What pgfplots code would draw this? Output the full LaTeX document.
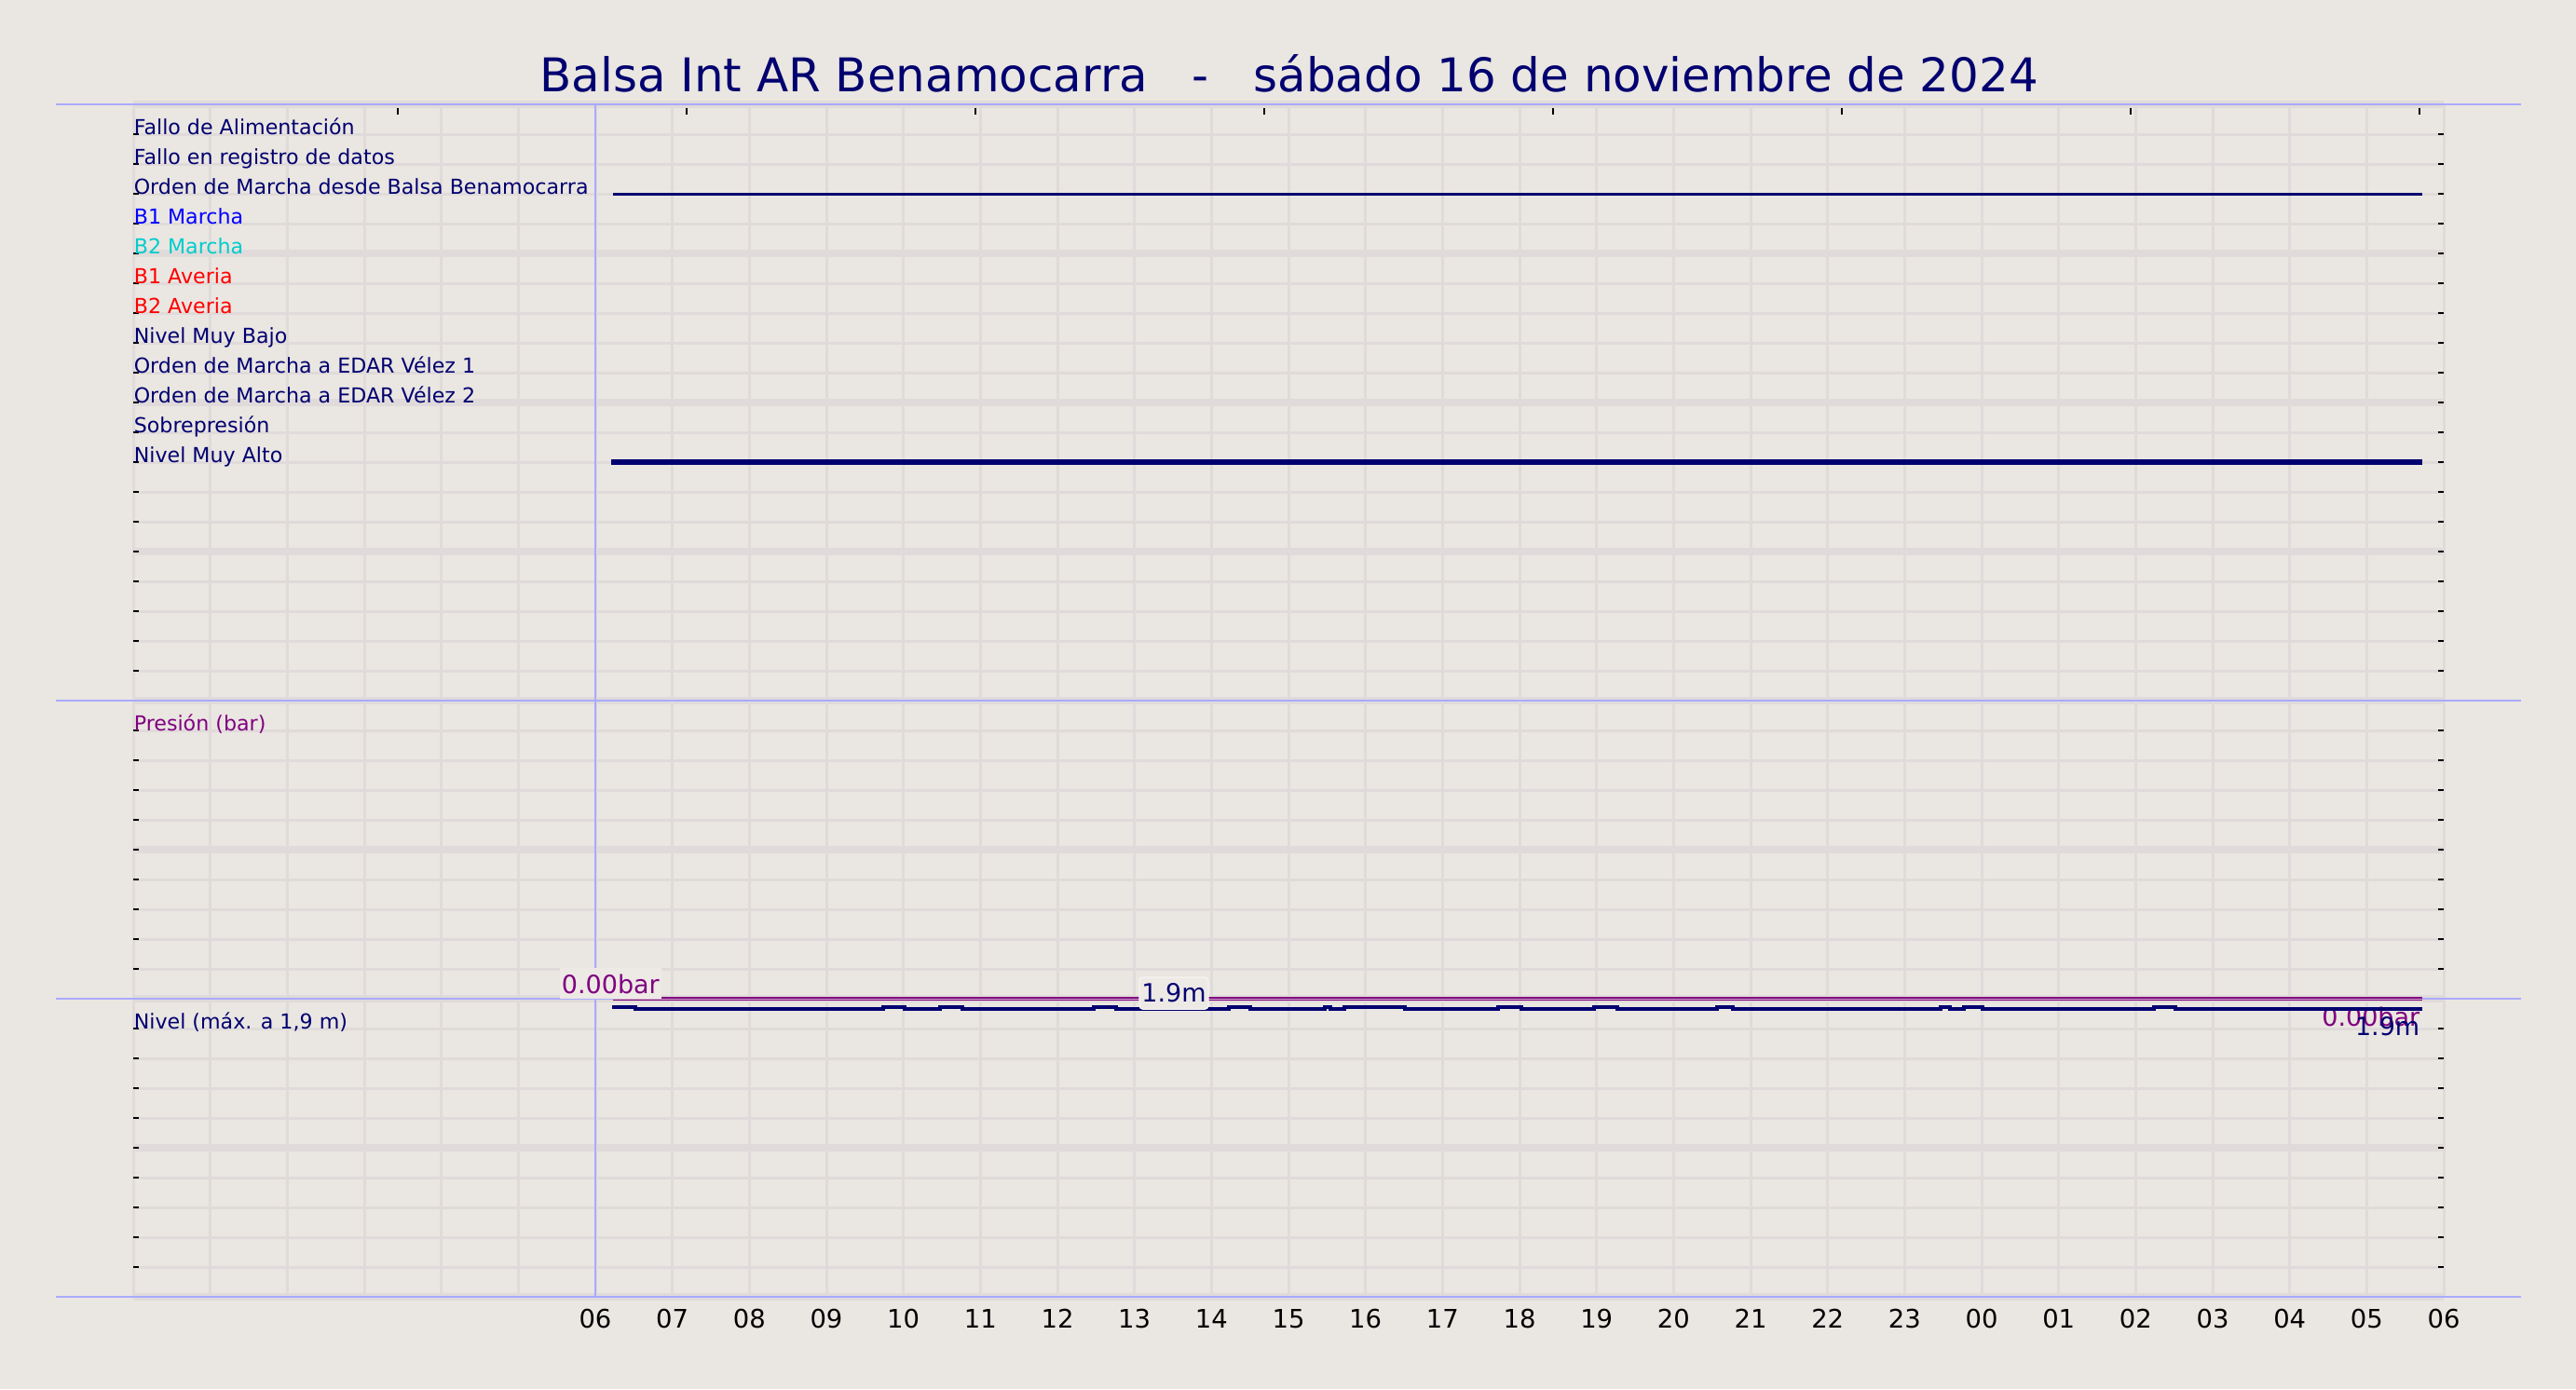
\documentclass[border=0pt]{standalone}
\usepackage{pgfplots}
\pgfplotsset{compat=1.18}
\usepackage{fontspec}
\setmainfont{DejaVu Sans}
\definecolor{bgc}{HTML}{EAE6E1}
\definecolor{gridc}{HTML}{E0DBDA}
\definecolor{sepc}{HTML}{AAAAFF}
\definecolor{navyc}{HTML}{000070}
\definecolor{purp}{HTML}{800080}
\definecolor{cyanc}{HTML}{00CCCC}
\definecolor{boxc}{HTML}{EDE9E5}
\newcommand\lab{\fontsize{5.54pt}{6.6pt}\selectfont}
\newcommand\ann{\fontsize{6.75pt}{8pt}\selectfont}
\begin{document}
\begin{tikzpicture}
\fill[bgc] (0,0) rectangle (691.25pt,372.75pt);
\node[anchor=base, text=navyc, font=\fontsize{12.48pt}{15pt}\selectfont, inner sep=0pt] at (345.9pt,348pt) {Balsa Int AR Benamocarra\ \ \ -\ \ \ sábado 16 de noviembre de 2024};
% main axis: grid, labels, digital signals (y = 40 - row)
\begin{axis}[
  at={(35.75pt,24.75pt)}, anchor=south west,
  scale only axis, width=620pt, height=320pt,
  xmin=0, xmax=30, ymin=0, ymax=40,
  axis line style={draw=none},
  clip=false,
  major tick length=0pt,
  xtick={6,...,30},
  xticklabels={06,07,08,09,10,11,12,13,14,15,16,17,18,19,20,21,22,23,00,01,02,03,04,05,06},
  xticklabel style={font=\fontsize{6.85pt}{8pt}\selectfont, anchor=base, yshift=-8.25pt, text=black},
  ytick=\empty,
]
\pgfplotsinvokeforeach{0,...,30}{\draw[gridc, line width=0.75pt] (axis cs:#1,0) -- (axis cs:#1,40);}
\pgfplotsinvokeforeach{0,...,40}{\draw[gridc, line width=0.75pt] (axis cs:0,#1) -- (axis cs:30,#1);}
\pgfplotsinvokeforeach{0,5,...,40}{\draw[gridc, line width=2pt] (axis cs:0,#1) -- (axis cs:30,#1);}
\pgfplotsinvokeforeach{1,...,39}{
  \draw[black, line width=0.45pt] (axis cs:0,#1) -- ++(1.5pt,0);
  \draw[black, line width=0.45pt] (axis cs:30,#1) -- ++(-1.5pt,0);}
\pgfplotsinvokeforeach{3.435,7.185,10.935,14.685,18.435,22.185,25.935,29.685}{
  \draw[black, line width=0.35pt] (axis cs:#1,40) ++(0,-1pt) -- ++(0,-1.75pt);}
\pgfplotsinvokeforeach{0,10,20,40}{
  \draw[sepc, line width=0.5pt] ([xshift=-20.75pt]axis cs:0,#1) -- ([xshift=20.75pt]axis cs:30,#1);}
\draw[sepc, line width=0.5pt] (axis cs:6,0) -- (axis cs:6,40);
\begin{scope}[every node/.style={anchor=base west, inner sep=0pt, font=\lab, yshift=-0.15pt}]
\node[text=navyc] at (axis cs:0,39) {Fallo de Alimentación};
\node[text=navyc] at (axis cs:0,38) {Fallo en registro de datos};
\node[text=navyc] at (axis cs:0,37) {Orden de Marcha desde Balsa Benamocarra};
\node[text=blue] at (axis cs:0,36) {B1 Marcha};
\node[text=cyanc] at (axis cs:0,35) {B2 Marcha};
\node[text=red] at (axis cs:0,34) {B1 Averia};
\node[text=red] at (axis cs:0,33) {B2 Averia};
\node[text=navyc] at (axis cs:0,32) {Nivel Muy Bajo};
\node[text=navyc] at (axis cs:0,31) {Orden de Marcha a EDAR Vélez 1};
\node[text=navyc] at (axis cs:0,30) {Orden de Marcha a EDAR Vélez 2};
\node[text=navyc] at (axis cs:0,29) {Sobrepresión};
\node[text=navyc] at (axis cs:0,28) {Nivel Muy Alto};
\node[text=purp] at (axis cs:0,19) {Presión (bar)};
\node[text=navyc] at (axis cs:0,9) {Nivel (máx. a 1,9 m)};
\end{scope}
% Orden de Marcha desde Balsa Benamocarra (row 3)
\addplot[navyc, line width=0.75pt] coordinates {(6.234,37) (29.722,37)};
% Nivel Muy Alto (row 12)
\addplot[navyc, line width=1.4pt] coordinates {(6.206,28) (29.722,28)};
\end{axis}
% Presion panel
\begin{axis}[
  at={(35.75pt,104.75pt)}, anchor=south west,
  scale only axis, width=620pt, height=80pt,
  xmin=0, xmax=30, ymin=0, ymax=10,
  hide axis, clip=false,
]
\addplot[purp, line width=0.8pt] coordinates {(6.234,0) (29.722,0)};
\addplot[purp!25!bgc, line width=0.25pt] coordinates {(6.234,0) (29.722,0)};
\node[anchor=base east, fill=boxc, text=purp, font=\ann, inner xsep=0.6pt, inner ysep=1.5pt] at (axis cs:6.871,0) [yshift=1.5pt] {0.00bar};
\node[anchor=base east, text=purp, font=\ann, inner sep=0pt] at (axis cs:29.698,0) [yshift=-7.25pt] {0.00bar};
\end{axis}
% Nivel panel
\begin{axis}[
  at={(35.75pt,24.75pt)}, anchor=south west,
  scale only axis, width=620pt, height=80pt,
  xmin=0, xmax=30, ymin=0, ymax=1.965,
  hide axis, clip=false,
]
\addplot[navyc, line width=1pt, const plot] coordinates {
(6.221,1.91) (6.516,1.90) (9.734,1.91) (10.012,1.90) (10.476,1.91) (10.763,1.90)
(12.472,1.91) (12.762,1.90) (14.226,1.91) (14.504,1.90) (15.468,1.91) (15.544,1.90)
(15.726,1.91) (16.512,1.90) (17.722,1.91) (18.024,1.90) (18.968,1.91) (19.270,1.90)
(20.564,1.91) (20.770,1.90) (23.468,1.91) (23.589,1.90) (23.770,1.91) (24.012,1.90)
(26.238,1.91) (26.516,1.90) (29.722,1.90)};
\node[anchor=base, fill=boxc, draw=white!50!boxc, line width=0.3pt, rounded corners=1pt, text=navyc, font=\ann, inner xsep=0.6pt, inner ysep=1.75pt] at (axis cs:13.512,1.9) [yshift=1.65pt] {1.9m};
\node[anchor=base east, text=navyc, font=\ann, inner sep=0pt] at (axis cs:29.698,1.9) [yshift=-7.35pt] {1.9m};
\end{axis}
\pgfresetboundingbox
\useasboundingbox (0,0) rectangle (691.25pt,372.75pt);
\end{tikzpicture}
\end{document}
